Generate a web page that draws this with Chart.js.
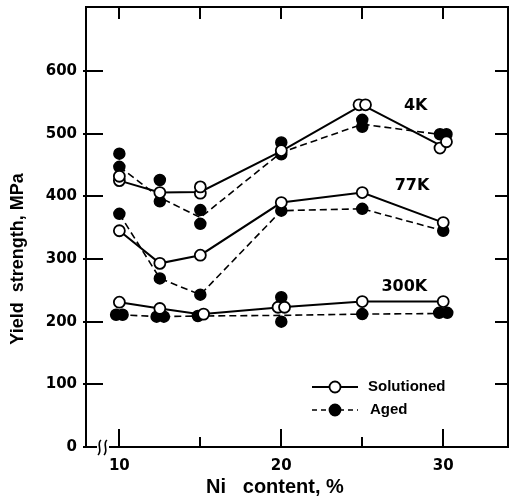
<!DOCTYPE html>
<html><head><meta charset="utf-8">
<script src="https://cdn.jsdelivr.net/npm/chart.js@4/dist/chart.umd.min.js"></script>
<style>html,body{margin:0;padding:0;background:#fff}canvas{display:block}</style>
</head><body>
<canvas id="c" width="509" height="500"></canvas>
<script>
// ---- data ----
const niContent = [10, 12.5, 15, 20, 25, 30];
// mean curves
const sol4K    = [425, 406, 407, 472, 546, 479];
const aged4K   = [447, 398, 366, 470, 515, 498];
const sol77K   = [345, 293, 306, 390, 406, 358];
const aged77K  = [372, 269, 243, 377, 380, 345];
const sol300K  = [231, 221, 212, 223, 232, 232];
const aged300K = [211, 208, 209, 210, 212, 213];
// individual specimens, solutioned (open symbols)
const solPointNi  = [10, 10, 12.5, 15, 15, 20, 24.8, 25.2, 29.8, 30.2,
                     10, 12.5, 15, 20, 25, 30,
                     10, 12.5, 15.2, 19.8, 20.2, 25, 30];
const solPointVal = [425, 432, 406, 405, 415, 473, 546, 546, 477, 487,
                     345, 293, 306, 390, 406, 358,
                     231, 221, 212, 223, 223, 232, 232];
// individual specimens, aged (filled symbols)
const agedPointNi  = [10, 10, 12.5, 12.5, 15, 15, 20, 20, 25, 25, 29.8, 30.2,
                      10, 12.5, 15, 20, 25, 30,
                      9.8, 10.2, 12.3, 12.75, 14.85, 20, 20, 25, 29.75, 30.25];
const agedPointVal = [468, 447, 426, 392, 378, 356, 486, 467, 522, 511, 499, 499,
                      372, 269, 243, 377, 380, 345,
                      211, 211, 208, 208, 209, 239, 200, 212, 214, 214];
const xTickLabels = [10, 20, 30];
const xTickMarks  = [10, 15, 20, 25, 30];
const yTickLabels = [0, 100, 200, 300, 400, 500, 600];
const tempLabels  = ['4K', '77K', '300K'];
const legendLabels = ['Solutioned', 'Aged'];
const xTitle = 'Ni   content, %';
const yTitle = 'Yield  strength, MPa';

const FONT = '"Liberation Sans", Arial, Helvetica, sans-serif';
const FONT2 = '"DejaVu Sans", "Liberation Sans", sans-serif';
const pts = (xs, ys) => xs.map((x, i) => ({x, y: ys[i]}));
const curve = (vals, dashed) => ({
  data: pts(niContent, vals), showLine: true, borderColor: '#000',
  borderWidth: dashed ? 1.6 : 2, borderDash: dashed ? [7, 4] : [],
  pointRadius: 0, tension: 0, order: 3
});
const noPad = s => { s.paddingTop = 0; s.paddingBottom = 0; s.paddingLeft = 0; s.paddingRight = 0; };

const frame = {
  id: 'frame',
  afterDraw(chart) {
    const {ctx, chartArea: {left, right, top, bottom}, scales: {x, y}} = chart;
    ctx.save();
    ctx.strokeStyle = '#000'; ctx.fillStyle = '#000';
    ctx.lineWidth = 2;
    const ln = (x1, y1, x2, y2) => { ctx.beginPath(); ctx.moveTo(x1, y1); ctx.lineTo(x2, y2); ctx.stroke(); };
    ctx.strokeRect(left, top, right - left, bottom - top);
    yTickLabels.forEach(v => {
      const py = Math.round(y.getPixelForValue(v));
      ln(left - 3, py, left + 17, py);
      if (v > 0) ln(right - 13, py, right, py);
    });
    xTickMarks.forEach(v => {
      const px = Math.round(x.getPixelForValue(v));
      const major = xTickLabels.includes(v);
      ln(px, bottom, px, bottom - (major ? 18 : 10));
      ln(px, top, px, top + 12);
    });
    // axis break
    ctx.fillStyle = '#fff';
    ctx.fillRect(97, bottom - 2, 12, 4);
    ctx.strokeStyle = '#000'; ctx.lineWidth = 1.6;
    [99, 105].forEach(bx => {
      ctx.beginPath();
      ctx.moveTo(bx + 2, bottom - 7);
      ctx.bezierCurveTo(bx - 3, bottom - 3, bx + 4, bottom + 3, bx - 1, bottom + 8);
      ctx.stroke();
    });
    // temperature labels
    ctx.fillStyle = '#000';
    ctx.font = 'bold 16px ' + FONT2;
    ctx.textAlign = 'center'; ctx.textBaseline = 'middle';
    ctx.fillText(tempLabels[0], x.getPixelForValue(28.3), y.getPixelForValue(544));
    ctx.fillText(tempLabels[1], x.getPixelForValue(28.07), y.getPixelForValue(417));
    ctx.fillText(tempLabels[2], x.getPixelForValue(27.6), y.getPixelForValue(255));
    // legend
    const lx1 = 312, lx2 = 358, cx = 335;
    const ly = [387, 410];
    ctx.lineWidth = 1.8;
    ln(lx1, ly[0], lx2, ly[0]);
    ctx.setLineDash([5, 4]); ctx.lineWidth = 1.5;
    ln(lx1, ly[1], lx2, ly[1]);
    ctx.setLineDash([]);
    ctx.lineWidth = 1.8;
    ctx.beginPath(); ctx.arc(cx, ly[0], 5.5, 0, Math.PI * 2); ctx.fillStyle = '#fff'; ctx.fill(); ctx.stroke();
    ctx.beginPath(); ctx.arc(cx, ly[1], 5.5, 0, Math.PI * 2); ctx.fillStyle = '#000'; ctx.fill(); ctx.stroke();
    ctx.font = 'bold 15px ' + FONT;
    ctx.textAlign = 'left';
    ctx.fillText(legendLabels[0], 368, ly[0]);
    ctx.fillText(legendLabels[1], 370, ly[1]);
    // axis titles
    ctx.font = 'bold 20px ' + FONT;
    ctx.textAlign = 'center';
    ctx.fillText(xTitle, 275, 487);
    ctx.save();
    ctx.translate(18, 259); ctx.rotate(-Math.PI / 2);
    ctx.font = 'bold 18px ' + FONT;
    ctx.fillText(yTitle, 0, 0);
    ctx.restore();
    ctx.restore();
  }
};

new Chart(document.getElementById('c'), {
  type: 'scatter',
  data: {
    datasets: [
      curve(sol4K, false), curve(aged4K, true),
      curve(sol77K, false), curve(aged77K, true),
      curve(sol300K, false), curve(aged300K, true),
      { data: pts(agedPointNi, agedPointVal), pointRadius: 5.5, pointBorderWidth: 1.5,
        pointBackgroundColor: '#000', pointBorderColor: '#000', order: 2 },
      { data: pts(solPointNi, solPointVal), pointRadius: 5.5, pointBorderWidth: 1.8,
        pointBackgroundColor: '#fff', pointBorderColor: '#000', order: 1 }
    ]
  },
  options: {
    responsive: false, animation: false, devicePixelRatio: 1,
    layout: {autoPadding: false, padding: {top: 7, right: 1, left: 0, bottom: 0}},
    plugins: {legend: {display: false}, tooltip: {enabled: false}},
    scales: {
      x: {
        type: 'linear', min: 7.94, max: 34,
        afterBuildTicks: s => { s.ticks = xTickLabels.map(v => ({value: v})); },
        afterFit: s => { s.height = 53; noPad(s); },
        grid: {display: false, drawTicks: false}, border: {display: false},
        ticks: {color: '#000', font: {family: FONT2, size: 15, weight: 'bold'}, padding: 10, maxRotation: 0, autoSkip: false}
      },
      y: {
        type: 'linear', min: 0, max: 702,
        afterBuildTicks: s => { s.ticks = yTickLabels.map(v => ({value: v})); },
        afterFit: s => { s.width = 86; noPad(s); },
        grid: {display: false, drawTicks: false}, border: {display: false},
        ticks: {color: '#000', font: {family: FONT2, size: 15, weight: 'bold'}, padding: 9, autoSkip: false}
      }
    }
  },
  plugins: [frame]
});
</script>
</body></html>
